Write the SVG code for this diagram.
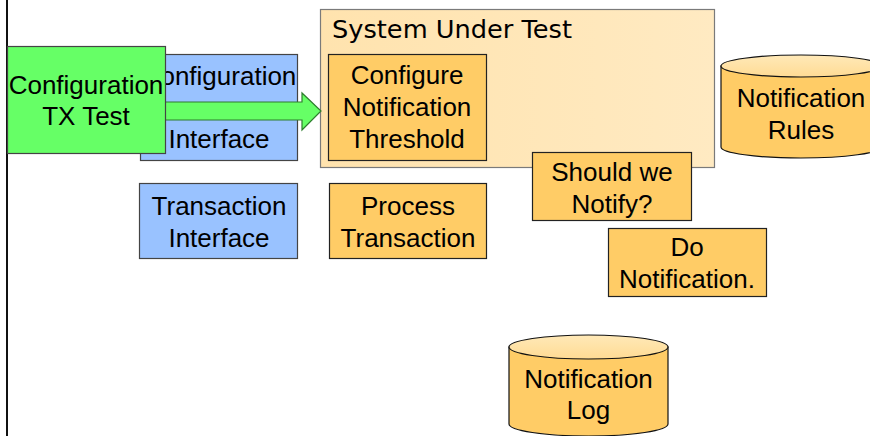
<svg xmlns="http://www.w3.org/2000/svg" width="870" height="436" viewBox="0 0 870 436">
  <defs>
    <linearGradient id="cylTop" x1="0" y1="0" x2="0" y2="1">
      <stop offset="0" stop-color="#FFE9B8"/>
      <stop offset="1" stop-color="#FFDB94"/>
    </linearGradient>
    <linearGradient id="sutFill" x1="0" y1="0" x2="1" y2="0">
      <stop offset="0" stop-color="#FFE3AE"/>
      <stop offset="1" stop-color="#FFEAC2"/>
    </linearGradient>
  </defs>
  <style>
    .lbl { font-family: "Liberation Sans", Arial, sans-serif; font-size: 26px; fill: #000; text-anchor: middle; }
    .title { font-family: "Comic Sans MS", "DejaVu Sans", sans-serif; font-size: 24px; fill: #000; }
    .task { fill: #FFCC66; stroke: #222; stroke-width: 1.2; }
    .iface { fill: #99C2FF; stroke: #444; stroke-width: 1.2; }
    .test { fill: #66FF66; stroke: #444; stroke-width: 1.2; }
    .store { fill: #FFCC66; stroke: #111; stroke-width: 1.2; }
    .storeTop { fill: url(#cylTop); stroke: #111; stroke-width: 1.2; }
  </style>

  <rect width="870" height="436" fill="#FFFFFF"/>

  <!-- left boundary line -->
  <line x1="7" y1="0" x2="7" y2="436" stroke="#111" stroke-width="2"/>

  <!-- system boundary -->
  <g id="system-under-test">
    <rect x="320.5" y="9.5" width="394" height="158" fill="url(#sutFill)" stroke="#7A7A7A" stroke-width="1.2"/>
    <text class="title" x="332" y="38" textLength="240" lengthAdjust="spacingAndGlyphs">System Under Test</text>
  </g>

  <g id="configure-threshold">
    <rect class="task" x="328.5" y="54.5" width="158" height="106"/>
    <text class="lbl" x="407" y="84">Configure</text>
    <text class="lbl" x="407" y="116">Notification</text>
    <text class="lbl" x="407" y="148">Threshold</text>
  </g>

  <g id="should-notify">
    <rect class="task" x="532.5" y="152.5" width="159" height="68"/>
    <text class="lbl" x="612" y="181">Should we</text>
    <text class="lbl" x="612" y="213">Notify?</text>
  </g>

  <g id="do-notification">
    <rect class="task" x="608.5" y="228.5" width="158" height="68"/>
    <text class="lbl" x="687" y="256">Do</text>
    <text class="lbl" x="687" y="288">Notification.</text>
  </g>

  <g id="transaction-interface">
    <rect class="iface" x="139.5" y="183.5" width="158" height="75"/>
    <text class="lbl" x="219" y="215">Transaction</text>
    <text class="lbl" x="219" y="247">Interface</text>
  </g>

  <g id="process-transaction">
    <rect class="task" x="329.5" y="183.5" width="157" height="75"/>
    <text class="lbl" x="408" y="215">Process</text>
    <text class="lbl" x="408" y="247">Transaction</text>
  </g>

  <g id="notification-rules">
    <path class="store" d="M721,66 L721,147 A80,11 0 0 0 881,147 L881,66 Z"/>
    <ellipse class="storeTop" cx="801" cy="66" rx="80" ry="11"/>
    <text class="lbl" x="801" y="107">Notification</text>
    <text class="lbl" x="801" y="139">Rules</text>
  </g>

  <g id="notification-log">
    <path class="store" d="M509,347 L509,424 A79.5,12 0 0 0 668,424 L668,347 Z"/>
    <ellipse class="storeTop" cx="588.5" cy="347" rx="79.5" ry="12"/>
    <text class="lbl" x="588.5" y="388">Notification</text>
    <text class="lbl" x="588.5" y="419">Log</text>
  </g>

  <g id="configuration-interface">
    <rect class="iface" x="140.5" y="54.5" width="157" height="106"/>
    <text class="lbl" x="219" y="85">Configuration</text>
    <text class="lbl" x="219" y="148">Interface</text>
  </g>

  <g id="connectors">
    <path d="M150,102 L302,102 L302,93 L321,111 L302,130 L302,120 L150,120 Z" fill="#66FF66" stroke="#2E7D2E" stroke-width="1.2" stroke-linejoin="miter"/>
  </g>

  <g id="configuration-tx-test">
    <rect class="test" x="7.5" y="46.5" width="158" height="107"/>
    <text class="lbl" x="86" y="94">Configuration</text>
    <text class="lbl" x="86" y="125">TX Test</text>
  </g>
</svg>
